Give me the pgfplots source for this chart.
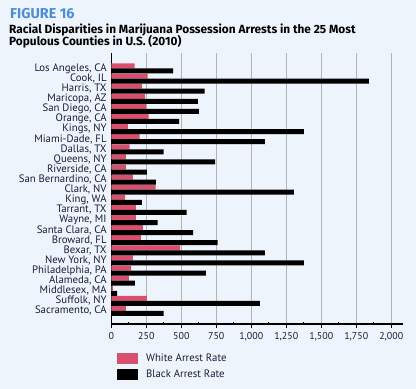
\documentclass[border=0pt]{standalone}
\usepackage{fontspec}
\setmainfont{PT Sans}
\newfontfamily\titlefont{Fira Sans}
\usepackage{pgfplots}
\pgfplotsset{compat=1.18}
\usepackage{pgfplotstable}
\definecolor{bg}{HTML}{EEF4FB}
\definecolor{pinkbar}{HTML}{D9506F}
\definecolor{titleblue}{HTML}{4B8DD6}
\definecolor{labelc}{HTML}{1B1B3A}
\definecolor{gridc}{HTML}{B4B4B4}
\pgfplotstableread{
idx white black
0 167 441
1 260 1841
2 219 667
3 241 619
4 248 626
5 267 484
6 119 1376
7 203 1098
8 131 374
9 105 741
10 105 255
11 155 319
12 317 1305
13 98 219
14 176 538
15 176 331
16 226 584
17 212 760
18 491 1098
19 155 1376
20 141 676
21 126 169
22 12 41
23 255 1062
24 105 374
}\datatable
\begin{document}
\begin{tikzpicture}
\fill[bg] (0,0) rectangle (416bp,389bp);
\path[use as bounding box] (0,0) rectangle (416bp,389bp);
\node[anchor=base west, inner sep=0pt, text=titleblue, font=\titlefont\fontsize{14.4}{17}\selectfont\bfseries] at (10bp,370bp) {FIGURE 16};
\node[anchor=base west, inner sep=0pt, font=\titlefont\fontsize{11.9}{13}\selectfont\bfseries] at (9bp,355bp) {Racial Disparities in Marijuana Possession Arrests in the 25 Most};
\node[anchor=base west, inner sep=0pt, font=\titlefont\fontsize{11.9}{13}\selectfont\bfseries] at (9bp,343bp) {Populous Counties in U.S. (2010)};
\begin{axis}[
  at={(111.3bp,65bp)}, anchor=south west,
  scale only axis, width=291.7bp, height=271bp,
  xbar, bar width=5bp,
  xmin=0, xmax=2084,
  ymin=-1.53, ymax=25.29, y dir=reverse,
  axis x line*=bottom, axis y line*=left,
  axis line style={black, line width=1.2bp, -},
  xtick={0,250,...,2000},
  minor x tick num=1,
  tick align=outside,
  major tick length=3.5bp, minor tick length=2.5bp,
  x tick style={black, line width=0.8bp},
  minor x tick style={yshift=2.5bp},
  xmajorgrids, major x grid style={gridc, line width=0.8bp},
  ytick={0,...,24},
  yticklabels={{Los Angeles, CA}, {Cook, IL}, {Harris, TX}, {Maricopa, AZ}, {San Diego, CA}, {Orange, CA}, {Kings, NY}, {Miami-Dade, FL}, {Dallas, TX}, {Queens, NY}, {Riverside, CA}, {San Bernardino, CA}, {Clark, NV}, {King, WA}, {Tarrant, TX}, {Wayne, MI}, {Santa Clara, CA}, {Broward, FL}, {Bexar, TX}, {New York, NY}, {Philadelphia, PA}, {Alameda, CA}, {Middlesex, MA}, {Suffolk, NY}, {Sacramento, CA}},
  y tick style={draw=none},
  yticklabel style={font=\fontsize{10.8}{11}\selectfont, text=labelc, inner sep=0pt, xshift=-1bp},
  xticklabel style={font=\fontsize{10}{11}\selectfont, text=labelc, yshift=-1.5bp},
  /pgf/number format/assume math mode=true,
  /pgf/number format/1000 sep={,},
  scaled x ticks=false,
  legend style={draw=none, fill=none, at={(0,0)}, anchor=north west, xshift=6bp, yshift=-29bp,
    font=\fontsize{10.8}{11}\selectfont, text=labelc, row sep=4.5bp, column sep=7bp, inner sep=0pt,
    nodes={inner sep=1bp}},
  legend cell align=left,
  legend image code/.code={\fill[#1] (0bp,-5.3bp) rectangle (20.7bp,5.3bp);},
]
\addplot[draw=none, fill=pinkbar, bar shift=2.5bp] table[x=white, y=idx] {\datatable};
\addplot[draw=none, fill=black, bar shift=-2.5bp] table[x=black, y=idx] {\datatable};
\legend{White Arrest Rate, Black Arrest Rate}
\end{axis}
\end{tikzpicture}
\end{document}
